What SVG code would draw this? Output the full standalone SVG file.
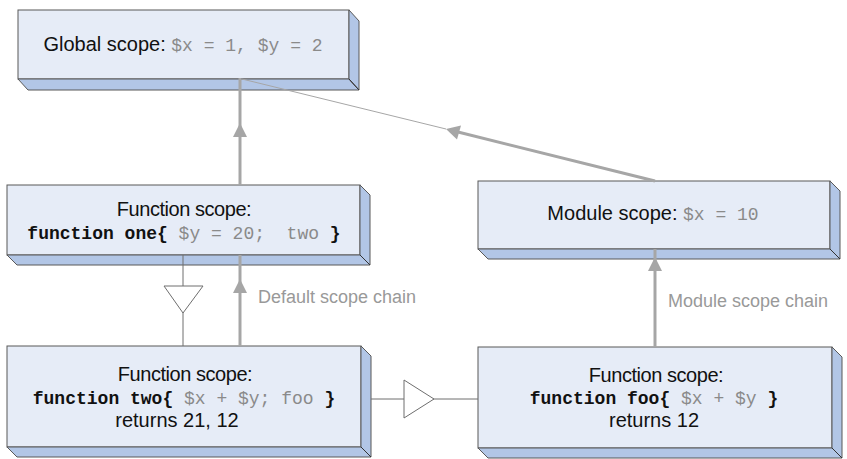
<svg xmlns="http://www.w3.org/2000/svg" width="847" height="459" viewBox="0 0 847 459">
<style>
.front{fill:#e6ecf7;stroke:#595959;stroke-width:1}
.side{fill:#b2c6e6;stroke:#595959;stroke-width:1}
.edge{stroke:#333;stroke-width:1;fill:none}
.t{font-family:"Liberation Sans",Arial,sans-serif;font-size:20px;fill:#111}
.fs{letter-spacing:-0.45px}
.code{font-family:"Liberation Mono","Courier New",monospace;font-size:18px;white-space:pre}
.gc{fill:#8a8a8a;font-weight:normal}
.bc{fill:#111;font-weight:bold}
.chain{stroke:#a6a6a6;stroke-width:3;fill:none}
.thin{stroke:#a6a6a6;stroke-width:1;fill:none}
.ah{fill:#a6a6a6;stroke:none}
.call{stroke:#6e6e6e;stroke-width:1;fill:none}
.tri{fill:#fff;stroke:#6e6e6e;stroke-width:1}
.lbl{font-family:"Liberation Sans",Arial,sans-serif;font-size:18px;fill:#999}
</style>
<g id="global">
<rect class="front" x="18" y="10" width="331" height="69"/>
<polygon class="side" points="18,79 349,79 359,90 28,90"/>
<polygon class="side" points="349,10 359,21 359,90 349,79"/>
<line class="edge" x1="349" y1="79" x2="359" y2="90"/>
<text class="t" x="183" y="51" text-anchor="middle" xml:space="preserve">Global scope: <tspan class="code gc" font-size="20">$x = 1, $y = 2</tspan></text>
</g>
<g id="one">
<rect class="front" x="7" y="185" width="353" height="70"/>
<polygon class="side" points="7,255 360,255 370,265 17,265"/>
<polygon class="side" points="360,185 370,195 370,265 360,255"/>
<line class="edge" x1="360" y1="255" x2="370" y2="265"/>
<text class="t fs" x="184" y="216" text-anchor="middle">Function scope:</text>
<text class="code bc" x="184" y="239" text-anchor="middle" xml:space="preserve">function one{ <tspan class="gc">$y = 20;  two</tspan> }</text>
</g>
<g id="module">
<rect class="front" x="478" y="181" width="352" height="68"/>
<polygon class="side" points="478,249 830,249 840,259 488,259"/>
<polygon class="side" points="830,181 840,191 840,259 830,249"/>
<line class="edge" x1="830" y1="249" x2="840" y2="259"/>
<text class="t" x="653" y="220" text-anchor="middle" xml:space="preserve">Module scope: <tspan class="code gc" font-size="20">$x = 10</tspan></text>
</g>
<g id="two">
<rect class="front" x="7" y="346" width="354" height="101"/>
<polygon class="side" points="7,447 361,447 371,457 17,457"/>
<polygon class="side" points="361,346 371,356 371,457 361,447"/>
<line class="edge" x1="361" y1="447" x2="371" y2="457"/>
<text class="t fs" x="185" y="381" text-anchor="middle">Function scope:</text>
<text class="code bc" x="184" y="404" text-anchor="middle" xml:space="preserve">function two{ <tspan class="gc">$x + $y; foo</tspan> }</text>
<text class="t" x="177" y="427" text-anchor="middle">returns 21, 12</text>
</g>
<g id="foo">
<rect class="front" x="478" y="347" width="354" height="101"/>
<polygon class="side" points="478,448 832,448 842,458 488,458"/>
<polygon class="side" points="832,347 842,357 842,458 832,448"/>
<line class="edge" x1="832" y1="448" x2="842" y2="458"/>
<text class="t fs" x="656" y="382" text-anchor="middle">Function scope:</text>
<text class="code bc" x="654" y="404" text-anchor="middle" xml:space="preserve">function foo{ <tspan class="gc">$x + $y</tspan> }</text>
<text class="t" x="654" y="427" text-anchor="middle">returns 12</text>
</g>
<g id="connectors">
<line class="chain" x1="240" y1="185" x2="240" y2="78"/>
<polygon class="ah" points="240,123 233,137 247,137"/>
<line class="chain" x1="655" y1="181" x2="452" y2="130.5"/>
<line class="thin" x1="446" y1="129" x2="242" y2="79"/>
<polygon class="ah" points="446,129 457,139.5 461,125.5"/>
<line class="chain" x1="240" y1="346" x2="240" y2="255"/>
<polygon class="ah" points="240,279 233,293 247,293"/>
<text class="lbl" x="258" y="303">Default scope chain</text>
<line class="chain" x1="655" y1="347" x2="655" y2="249"/>
<polygon class="ah" points="655,257 648,271 662,271"/>
<text class="lbl" x="668" y="307">Module scope chain</text>
<line class="call" x1="183" y1="255" x2="183" y2="346"/>
<polygon class="tri" points="164,286 203,286 183,313"/>
<line class="call" x1="371" y1="399" x2="478" y2="399"/>
<polygon class="tri" points="404,380 404,418 434,399"/>
</g>
</svg>
